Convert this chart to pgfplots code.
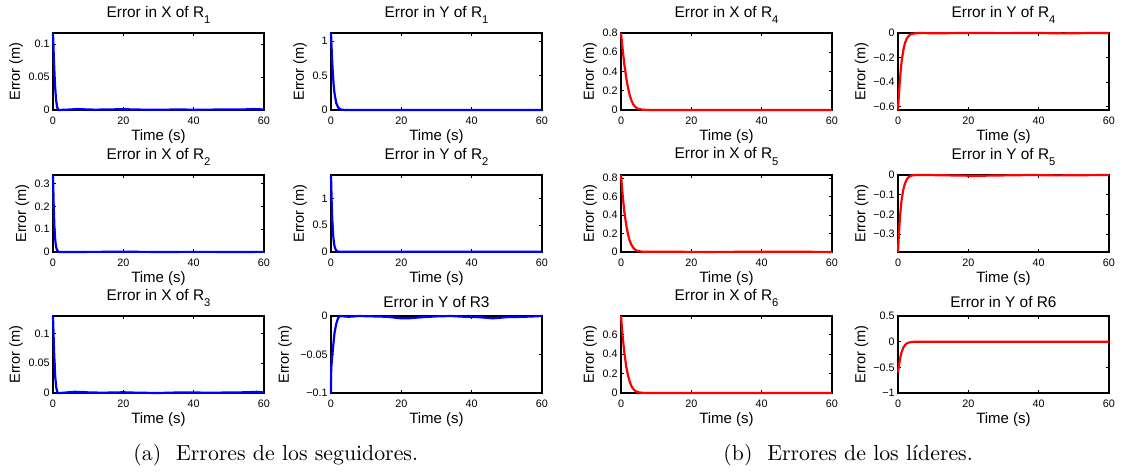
\documentclass[border=0pt]{standalone}
\usepackage{fontspec}
\usepackage{pgfplots}
\pgfplotsset{compat=1.18}
\newfontfamily\hv{Liberation Sans}
\newcommand\sub[1]{\raisebox{-3.3pt}{\fontsize{5.6}{6}\selectfont #1}}
\definecolor{mblue}{RGB}{0,0,255}
\definecolor{mred}{RGB}{255,0,0}

\pgfplotsset{
  sub/.style={
    width=105.5pt, height=38.5pt, scale only axis,
    xmin=0, xmax=60, xtick={0,20,40,60}, xticklabels={0,20,40,60},
    tick align=inside, tick pos=both, major tick length=1.6pt,
    axis line style={line width=0.65pt},
    every tick/.style={black, line width=0.4pt},
    tick label style={font=\hv\fontsize{5.4}{6}\selectfont},
    xticklabel style={anchor=base, inner sep=0pt, yshift=-7pt},
    yticklabel style={anchor=east, inner sep=0pt, xshift=-1.5pt},
    every axis title shift=0pt,
    title style={font=\hv\fontsize{7.7}{9}\selectfont, at={(0.5,1)}, anchor=base, yshift=8pt},
    xlabel style={font=\hv\fontsize{7.5}{9}\selectfont, at={(0.5,0)}, anchor=base, yshift=-15pt},
    ylabel style={font=\hv\fontsize{7.3}{9}\selectfont, anchor=center},
    xlabel={Time (s)}, ylabel={Error (m)},
    clip=false,
  },
  ylab/.style={ylabel style={at={(axis description cs:-#1,0.5)}}},
  fol/.style={mblue, line width=1.1pt},
  lea/.style={mred, line width=1.1pt},
}

\begin{document}
\begin{tikzpicture}
\path[use as bounding box] (0,0) rectangle (563pt,-236pt);

% ---------- seguidores ----------
\begin{axis}[sub, ylab=0.175, at={(26.5pt,-55pt)}, anchor=south west,
  title={Error in X of R\sub{1}}, ymin=0, ymax=0.117,
  ytick={0,0.05,0.1}, yticklabels={0,0.05,0.1}]
\addplot[fol] coordinates {(0,0.117) (0.3,0.07) (0.6,0.035) (0.9,0.014) (1.2,0.004) (1.5,0) (3,0.0003) (5,0.0008) (7,0.0015) (9,0.001) (12,0.0005) (15,0.0008) (20,0.0012) (25,0.0006) (30,0.0003) (35,0.0008) (40,0.0005) (45,0.0006) (50,0.0008) (55,0.001) (57,0.0015) (60,0.0008)};
\end{axis}

\begin{axis}[sub, ylab=0.147, at={(165.5pt,-55pt)}, anchor=south west,
  title={Error in Y of R\sub{1}}, ymin=0, ymax=1.12,
  ytick={0,0.5,1}, yticklabels={0,0.5,1}]
\addplot[fol] coordinates {(0,1.12) (0.25,0.8) (0.5,0.55) (0.75,0.37) (1,0.24) (1.5,0.1) (2,0.04) (2.5,0.015) (3,0.005) (4,0.001) (5,0) (60,0)};
\end{axis}

\begin{axis}[sub, ylab=0.145, at={(26.5pt,-126pt)}, anchor=south west,
  title={Error in X of R\sub{2}}, ymin=0, ymax=0.3375,
  ytick={0,0.1,0.2,0.3}, yticklabels={0,0.1,0.2,0.3}]
\addplot[fol] coordinates {(0,0.3375) (0.2,0.2) (0.4,0.11) (0.6,0.06) (0.8,0.03) (1,0.015) (1.3,0.005) (1.6,0.001) (2,0) (10,0.0005) (20,0.001) (30,0.0003) (40,0.0006) (50,0.0004) (60,0.0005)};
\end{axis}

\begin{axis}[sub, ylab=0.147, at={(165.5pt,-126pt)}, anchor=south west,
  title={Error in Y of R\sub{2}}, ymin=0, ymax=1.435,
  ytick={0,0.5,1}, yticklabels={0,0.5,1}]
\addplot[fol] coordinates {(0,1.435) (0.2,0.9) (0.4,0.55) (0.6,0.33) (0.8,0.19) (1,0.11) (1.3,0.05) (1.6,0.02) (2,0.008) (3,0.003) (10,0.004) (20,0.005) (30,0.004) (40,0.005) (50,0.004) (60,0.005)};
\end{axis}

\begin{axis}[sub, ylab=0.175, at={(26.5pt,-196.5pt)}, anchor=south west,
  title={Error in X of R\sub{3}}, ymin=0, ymax=0.129,
  ytick={0,0.05,0.1}, yticklabels={0,0.05,0.1}]
\addplot[fol] coordinates {(0,0.129) (0.3,0.07) (0.6,0.03) (0.9,0.01) (1.2,0.002) (1.5,0) (2,0) (4,0.001) (6,0.002) (8,0.0018) (10,0.001) (14,0.0005) (20,0.0012) (24,0.0005) (30,0) (35,0.0008) (40,0.0008) (45,0.0005) (50,0.0008) (55,0.0012) (58,0.002) (60,0.0008)};
\end{axis}

\begin{axis}[sub, ylab=0.218, at={(165.5pt,-196.5pt)}, anchor=south west,
  title={Error in Y of R3}, title style={yshift=-3.5pt}, ymin=-0.1, ymax=0,
  ytick={-0.1,-0.05,0}, yticklabels={−0.1,−0.05,0}]
\addplot[fol] coordinates {(0,-0.1) (0.05,-0.068) (0.3,-0.055) (0.6,-0.04) (1,-0.022) (1.5,-0.01) (2,-0.003) (2.5,0) (5,-0.001) (8,0) (12,-0.0005) (16,-0.001) (20,-0.003) (22,-0.003) (26,-0.0015) (30,-0.0005) (34,0) (38,-0.001) (42,-0.0015) (46,-0.003) (50,-0.0015) (55,-0.001) (60,0)};
\end{axis}

% ---------- lideres ----------
\begin{axis}[sub, ylab=0.147, at={(310.5pt,-55pt)}, anchor=south west,
  title={Error in X of R\sub{4}}, ymin=0, ymax=0.8,
  ytick={0,0.2,0.4,0.6,0.8}, yticklabels={0,0.2,0.4,0.6,0.8}]
\addplot[lea] coordinates {(0,0.8) (0.5,0.62) (1,0.46) (1.5,0.33) (2,0.23) (2.5,0.15) (3,0.095) (3.5,0.058) (4,0.034) (4.5,0.02) (5,0.011) (6,0.004) (7,0.001) (8,0) (60,0)};
\end{axis}

\begin{axis}[sub, ylab=0.173, at={(449pt,-55pt)}, anchor=south west,
  title={Error in Y of R\sub{4}}, ymin=-0.627, ymax=0,
  ytick={-0.6,-0.4,-0.2,0}, yticklabels={−0.6,−0.4,−0.2,0}]
\addplot[lea] coordinates {(0,-0.627) (0.25,-0.5) (0.5,-0.4) (0.75,-0.31) (1,-0.24) (1.5,-0.14) (2,-0.08) (2.5,-0.045) (3,-0.025) (3.5,-0.013) (4,-0.007) (5,-0.002) (6,0) (10,-0.002) (20,0) (30,-0.001) (40,0) (47,-0.003) (55,0) (60,0)};
\end{axis}

\begin{axis}[sub, ylab=0.147, at={(310.5pt,-126pt)}, anchor=south west,
  title={Error in X of R\sub{5}}, ymin=0, ymax=0.832,
  ytick={0,0.2,0.4,0.6,0.8}, yticklabels={0,0.2,0.4,0.6,0.8}]
\addplot[lea] coordinates {(0,0.832) (0.5,0.6) (1,0.42) (1.5,0.29) (2,0.19) (2.5,0.12) (3,0.075) (3.5,0.045) (4,0.026) (4.5,0.015) (5,0.009) (6,0.004) (8,0.002) (15,0.002) (25,0.001) (35,0.002) (45,0.003) (52,0.002) (60,0.001)};
\end{axis}

\begin{axis}[sub, ylab=0.173, at={(449pt,-126pt)}, anchor=south west,
  title={Error in Y of R\sub{5}}, ymin=-0.391, ymax=0,
  ytick={-0.3,-0.2,-0.1,0}, yticklabels={−0.3,−0.2,−0.1,0}]
\addplot[lea] coordinates {(0,-0.391) (0.25,-0.3) (0.5,-0.23) (0.75,-0.175) (1,-0.13) (1.5,-0.075) (2,-0.042) (2.5,-0.022) (3,-0.011) (3.5,-0.005) (4,-0.002) (5,0) (8,0) (15,-0.002) (22,-0.004) (30,-0.002) (38,0) (45,-0.002) (52,-0.001) (60,0)};
\end{axis}

\begin{axis}[sub, ylab=0.147, at={(310.5pt,-196.5pt)}, anchor=south west,
  title={Error in X of R\sub{6}}, ymin=0, ymax=0.793,
  ytick={0,0.2,0.4,0.6}, yticklabels={0,0.2,0.4,0.6}]
\addplot[lea] coordinates {(0,0.793) (0.5,0.57) (1,0.4) (1.5,0.27) (2,0.18) (2.5,0.115) (3,0.07) (3.5,0.042) (4,0.024) (4.5,0.013) (5,0.007) (6,0.002) (8,0) (60,0)};
\end{axis}

\begin{axis}[sub, ylab=0.173, at={(449pt,-196.5pt)}, anchor=south west,
  title={Error in Y of R6}, title style={yshift=-3.5pt}, ymin=-1, ymax=0.5,
  ytick={-1,-0.5,0,0.5}, yticklabels={−1,−0.5,0,0.5}]
\addplot[lea] coordinates {(0,-0.6) (0.25,-0.47) (0.5,-0.37) (0.75,-0.28) (1,-0.21) (1.5,-0.12) (2,-0.065) (2.5,-0.035) (3,-0.018) (4,-0.005) (5,-0.001) (6,0) (60,0)};
\end{axis}

% ---------- captions ----------
\node[anchor=base west, inner sep=0pt, font=\fontsize{10.9}{13}\selectfont] at (66.5pt,-230pt) {(a)\hspace{0.68em}Errores de los seguidores.};
\node[anchor=base west, inner sep=0pt, font=\fontsize{10.9}{13}\selectfont] at (361.5pt,-230pt) {(b)\hspace{0.68em}Errores de los líderes.};
\end{tikzpicture}
\end{document}
